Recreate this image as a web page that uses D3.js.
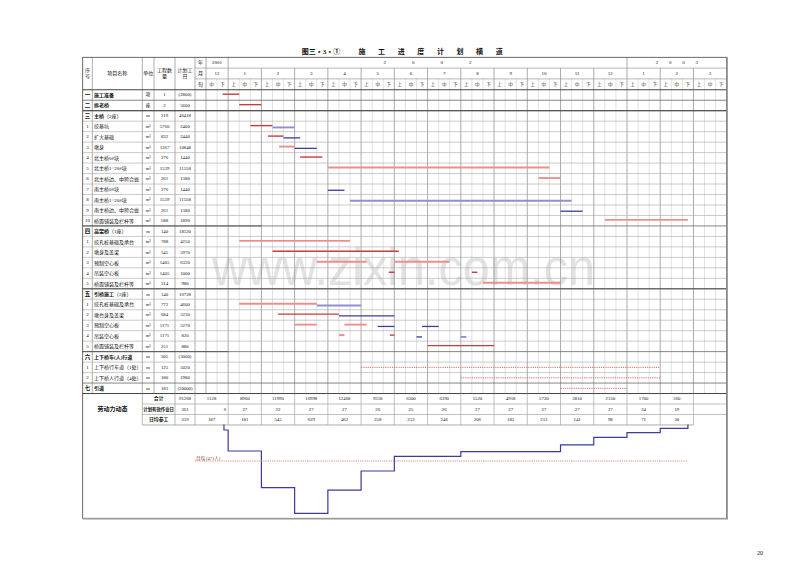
<html>
<head>
<meta charset="utf-8">
<script src="https://d3js.org/d3.v7.min.js"></script>
<style>
body { margin: 0; background: #fff; }
svg text { font-family: "Liberation Serif", "Noto Sans CJK SC", serif; fill: #111; }
</style>
</head>
<body>
<svg width="800" height="566"></svg>
<script>
// rows of the schedule table
var rowNos = ["一","二","三","1","2","3","4","5","6","7","8","9","10","四","1","2","3","4","5","五","1","2","3","4","5","六","1","2","七"];
var rowNames = ["施工准备","拆老桥","主桥|（2座）","挖基坑","扩大基础","墩身","北主桥0#块","北主桥1~20#块","北主桥边、中跨合拢",
  "南主桥0#块","南主桥1~20#块","南主桥边、中跨合拢","桥面铺装及栏杆等","高架桥|（1座）","挖孔桩基础及承台","墩身及盖梁",
  "预制空心板","吊装空心板","桥面铺装及栏杆等","引桥施工|（2座）","挖孔桩基础及承台","墩台身及盖梁","预制空心板","吊装空心板",
  "桥面铺装及栏杆等","上下桥车(人)行道","上下桥行车道（1处）","上下桥人行道（4处）","引道"];
var rowUnits = ["项","座","m","m³","m³","m³","m³","m³","m³","m³","m³","m³","m³","m","m³","m³","m³","m³","m³","m","m³","m³","m³","m³","m³","m","m","m","m"];
var rowQty = ["1","2","219","5760","832","1367","276","1539","261","276","1539","261","588","140","788","545","1405","1405","314",
  "140","772","684","1171","1171","251","305","125","180","183"];
var rowDays = ["(2800)","5600","46418","2400","2440","10848","1440","11558","1380","1440","11558","1380","1890","18520","4250","5970",
  "6320","1000","980","16728","4600","5230","5270","820","880","(3000)","5020","1980","(20000)"];

// time axis: dekads counted from 2001-12 middle dekad
var yearLabels = ["2001", "2002", "2003"];
var yearSpans = [[0, 2], [2, 38], [38, 47]];
var yearSpacing = [0, 26, 10.7];
var monthLabels = ["12","1","2","3","4","5","6","7","8","9","10","11","12","1","2","3"];
var dekadLabels = ["上","中","下"];

// bars: [row, start dekad, end dekad, kind]
var bars = [
  [0, 1.5, 3, "r"], [1, 3, 5, "r"],
  [3, 4, 6, "r"], [3, 6, 8, "l"],
  [4, 5.6, 7, "r"], [4, 7, 8.5, "b"],
  [5, 6.6, 8, "p"], [5, 8, 10, "b"],
  [6, 8.5, 10.5, "r"], [7, 11, 31, "p"], [8, 30, 32, "p"],
  [9, 11, 12.5, "b"], [10, 13, 33, "l"], [11, 32, 34, "b"], [12, 36, 43.5, "p"],
  [14, 3, 13, "p"], [15, 6, 17.4, "r"],
  [16, 10, 14.5, "p"], [16, 17, 22, "p"],
  [17, 16.5, 17, "r"], [17, 24, 24.5, "r"],
  [18, 25, 32, "p"],
  [20, 3, 10, "p"], [20, 10, 14, "l"],
  [21, 6.5, 12, "r"], [21, 12, 17, "b"],
  [22, 8, 10, "p"], [22, 12.5, 14.5, "p"], [22, 15.5, 17, "b"], [22, 19.5, 21, "b"],
  [23, 12, 12.5, "p"], [23, 16.6, 17, "r"], [23, 19, 19.5, "b"], [23, 23, 23.5, "l"],
  [24, 20, 26, "r"],
  [26, 14, 41, "d"], [27, 23, 41, "d"], [28, 32, 38, "d"]
];

// labour table
var laborSum = "91268", laborDaysSum = "361", laborDailyAvg = 259;
var laborMonthTotal = ["1128","8960","11990","16998","12468","9318","6300","6390","5520","4918","5720","3810","2130","1700","560"];
var laborWorkDays = ["6","27","22","27","27","26","25","26","27","27","27","27","27","24","19"];
var laborDaily = ["187","181","545","629","462","358","252","246","206","183","212","141","98","71","30"];

// labour curve as drawn (people per day)
var curveLevels = [39, 188, 448, 630, 465, 330, 226, 226, 193, 193, 193, 145, 91, 58, 27];
var curveStart = 1.62, curveEnd = 43.5;
var avgLabel = "月均 (471人)";

var svg = d3.select("svg");
svg.append("rect").attr("width", 800).attr("height", 566).attr("fill", "#fff");

var L = 82.7, R = 726.7, T = 57.3, B = 518.3;
var colX = [82.7, 92.3, 142.3, 154, 175, 195, 206];
var headY = [57.3, 68.1, 78.9, 89.76];
var rowH = 10.475;
var x = d3.scaleLinear().domain([0, 47]).range([206, R]);
var rowTop = function(i) { return headY[3] + i * rowH; };
var rowMid = function(i) { return headY[3] + (i + 0.5) * rowH; };
var yc = d3.scaleLinear().domain([0, 630]).range([424.5, 513.3]);
var monthStart = function(i) { return i == 0 ? 0 : 2 + (i - 1) * 3; };
var monthEnd = function(i) { return 2 + i * 3; };
var isSection = function(i) { return isNaN(+rowNos[i]); };

function hline(x1, x2, yy, c, w) {
  return svg.append("line").attr("x1", x1).attr("x2", x2).attr("y1", yy).attr("y2", yy)
    .attr("stroke", c).attr("stroke-width", w || 0.6);
}
function vline(xx, y1, y2, c, w) {
  return svg.append("line").attr("x1", xx).attr("x2", xx).attr("y1", y1).attr("y2", y2)
    .attr("stroke", c).attr("stroke-width", w || 0.6);
}
function txt(xx, yy, s, size, anchor, bold) {
  return svg.append("text").attr("x", xx).attr("y", yy).text(s)
    .style("font-size", size + "px").attr("text-anchor", anchor || "middle")
    .attr("dominant-baseline", "central").style("font-weight", bold ? "bold" : "normal");
}

// watermark
svg.append("text").attr("x", 212).attr("y", 285).text("www.zixin.com.cn")
  .style("font-family", "Liberation Sans").style("font-size", "52px").style("fill", "#e2e2e2")
  .attr("textLength", 383).attr("lengthAdjust", "spacingAndGlyphs");

// title
txt(301.7, 52.3, "图三・3・①", 7, "start", true);
txt(358.5, 52.3, "施工进度计划横道", 7, "start", true).style("letter-spacing", "12.6px");

// grid: dekad and month lines
d3.range(1, 47).forEach(function(d) {
  var isMonth = d >= 2 && (d - 2) % 3 == 0;
  if (isMonth) vline(x(d), (d == 2 || d == 38) ? T : headY[1], rowTop(29), "#888", 0.7);
  else vline(x(d), headY[2], rowTop(29), "#cfcfcf", 0.6);
});
colX.slice(1).forEach(function(cx) { vline(cx, T, rowTop(29), "#777", 0.6); });
hline(colX[5], R, headY[1], "#888");
hline(colX[5], R, headY[2], "#888");

// row lines
d3.range(1, 29).forEach(function(i) {
  hline(L, R, rowTop(i), isSection(i) ? "#666" : "#a8a8a8", isSection(i) ? 0.8 : 0.6);
});
hline(L, R, headY[3], "#444", 1);
hline(L, R, rowTop(2), "#444", 1);
hline(L, R, rowTop(19), "#555", 1);
hline(L, x(5), rowTop(13), "#555", 0.9);
hline(L, x(2), rowTop(25), "#555", 0.9);
hline(L, R, rowTop(29), "#444", 1);

// labour table lines
hline(colX[2], R, rowTop(30), "#999");
hline(colX[2], R, rowTop(31), "#999");
hline(colX[2], x(44), rowTop(32), "#777");
[colX[2], colX[4], colX[5]].forEach(function(cx) { vline(cx, rowTop(29), rowTop(32), "#888"); });
d3.range(15).forEach(function(i) { vline(x(monthEnd(i)), rowTop(29), rowTop(32), "#999"); });

// outer border
svg.append("rect").attr("x", L).attr("y", T).attr("width", R - L).attr("height", B - T)
  .attr("fill", "none").attr("stroke", "#444").attr("stroke-width", 0.8);
hline(L, R + 1, B + 0.5, "#999", 1.6);
vline(R + 0.5, T, B + 1, "#999", 1.4);

// header texts
txt(87.5, 70.3, "序", 5); txt(87.5, 76.3, "号", 5);
txt(117.3, 73.5, "项目名称", 5);
txt(148.15, 73.5, "单位", 5);
txt(164.5, 70.8, "工程数", 5); txt(164.5, 76.8, "量", 5);
txt(185, 70.8, "计划工", 5); txt(185, 76.8, "日", 5);
txt(200.5, 62.7, "年", 5); txt(200.5, 73.5, "月", 5); txt(200.5, 84.3, "旬", 5);
yearLabels.forEach(function(s, i) {
  var cx = (x(yearSpans[i][0]) + x(yearSpans[i][1])) / 2;
  txt(cx + yearSpacing[i] / 2, 62.7, s, 5).style("letter-spacing", yearSpacing[i] + "px");
});
monthLabels.forEach(function(s, i) {
  txt((x(monthStart(i)) + x(monthEnd(i))) / 2, 73.5, s, 5);
});
d3.range(47).forEach(function(d) {
  txt(x(d + 0.5), 84.3, dekadLabels[(d + 1) % 3], 4.6).style("fill", "#333");
});

// left table texts
rowNos.forEach(function(no, i) {
  var yy = rowMid(i), sec = isSection(i);
  txt(87.5, yy, no, sec ? 5.5 : 5, "middle", sec);
  var parts = rowNames[i].split("|");
  var t = svg.append("text").attr("x", 94).attr("y", yy).attr("dominant-baseline", "central")
    .style("font-size", "5px");
  t.append("tspan").text(parts[0]).style("font-weight", sec ? "bold" : "normal");
  if (parts[1]) t.append("tspan").text(parts[1]).style("font-weight", "normal");
  txt(148.15, yy, rowUnits[i], 4.6);
  txt(164.5, yy, rowQty[i], 4.8);
  txt(185, yy, rowDays[i], 4.8);
});

// bars
var barStyle = {
  r: { c: "#c83c3c", w: 1.4, o: -0.8 },
  p: { c: "#f08e8e", w: 1.9, o: -0.8 },
  b: { c: "#3b3ba3", w: 1.3, o: 1 },
  l: { c: "#8f8fd8", w: 1.9, o: 1 },
  d: { c: "#e06a6a", w: 1, o: 0 }
};
svg.append("g").selectAll("line").data(bars).enter().append("line")
  .attr("x1", function(d) { return x(d[1]); })
  .attr("x2", function(d) { return x(d[2]); })
  .attr("y1", function(d) { return rowMid(d[0]) + barStyle[d[3]].o; })
  .attr("y2", function(d) { return rowMid(d[0]) + barStyle[d[3]].o; })
  .attr("stroke", function(d) { return barStyle[d[3]].c; })
  .attr("stroke-width", function(d) { return barStyle[d[3]].w; })
  .attr("stroke-dasharray", function(d) { return d[3] == "d" ? "1.2,1" : null; });

// labour table texts
txt(112.5, rowMid(30), "劳动力动态", 6, "middle", true);
txt(158.65, rowMid(29), "合计", 4.8, "middle", true);
txt(158.65, rowMid(30), "计划有效作业日", 4.4, "middle", true);
txt(158.65, rowMid(31), "日均参工", 4.8, "middle", true);
txt(185, rowMid(29), laborSum, 4.8);
txt(185, rowMid(30), laborDaysSum, 4.8);
txt(185, rowMid(31), laborDailyAvg, 4.8);
laborMonthTotal.forEach(function(s, i) {
  var a = i == 0 ? colX[5] : x(monthStart(i)), b = x(monthEnd(i));
  txt((a + b) / 2, rowMid(29), s, 4.8);
  if (i == 0) txt(b - 2, rowMid(30), laborWorkDays[i], 4.8, "end");
  else txt((a + b) / 2, rowMid(30), laborWorkDays[i], 4.8);
  txt((a + b) / 2, rowMid(31), laborDaily[i], 4.8);
});

// labour curve
var pts = [[curveStart, 0]];
curveLevels.forEach(function(v, i) {
  var a = i == 0 ? curveStart : monthStart(i);
  var b = i == curveLevels.length - 1 ? curveEnd : monthEnd(i);
  pts.push([a, v]); pts.push([b, v]);
});
pts.push([curveEnd, 0]);
svg.append("path").attr("d", d3.line().x(function(d) { return x(d[0]); }).y(function(d) { return yc(d[1]); })(pts))
  .attr("fill", "none").attr("stroke", "#3c3c9c").attr("stroke-width", 1.2);

// average line
hline(colX[5], x(curveEnd), yc(laborDailyAvg), "#e06a6a", 0.8).attr("stroke-dasharray", "1.2,1");
txt(196, yc(laborDailyAvg) - 2.4, avgLabel, 4.5, "start").style("fill", "#7a3a4a");

// page number
txt(760, 553, "20", 6);
</script>
</body>
</html>
